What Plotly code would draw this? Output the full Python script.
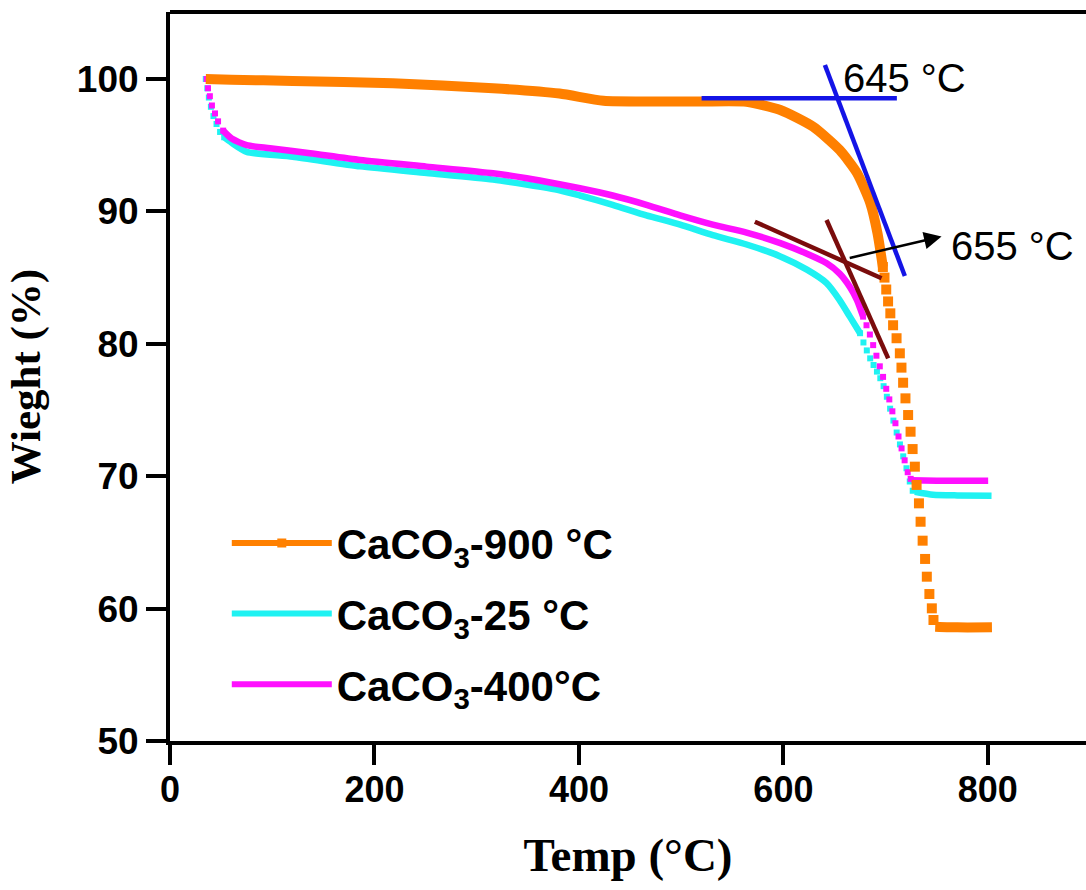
import plotly.graph_objects as go

# ---------------- TGA readings (temperature in °C, weight in %) ----------------
# CaCO3-900 °C
t900_slow = [35, 60, 120, 218, 316, 381, 424, 479, 520, 564, 597, 629, 655, 672, 685, 692, 697.3]
w900_slow = [100.0, 99.95, 99.85, 99.67, 99.3, 98.9, 98.35, 98.3, 98.3, 98.28, 97.66, 96.4, 94.64, 92.9, 90.63, 88.37, 85.8]
t900_drop = [697.3, 698.9, 700.6, 702.4, 704.6, 707.3, 710.7, 713.9, 715.5, 717.1, 719.4, 722.0, 724.4,
             726.4, 728.6, 730.3, 732.6, 734.2, 736.2, 738.6, 740.3, 742.8, 745.2, 746.8]
w900_drop = [85.8, 85.0, 84.1, 83.2, 82.3, 81.4, 80.42, 79.28, 78.20, 77.06, 75.88, 74.62, 73.36,
             72.05, 70.72, 69.34, 67.95, 66.56, 65.13, 63.75, 62.41, 61.10, 60.02, 59.14]
t900_end = [748.5, 760, 780, 804]
w900_end = [58.63, 58.6, 58.58, 58.6]

# CaCO3-25 °C
t25_start = [35, 36.5, 38, 40, 42.5, 45.5, 49, 53]
w25_start = [100.0, 99.3, 98.6, 97.9, 97.2, 96.6, 96.0, 95.6]
t25_slow = [53, 60, 75, 120, 186, 251, 316, 381, 401, 433, 466, 499, 531, 564, 597, 623, 642, 655, 665, 675]
w25_slow = [95.6, 95.2, 94.5, 94.13, 93.4, 92.9, 92.4, 91.6, 91.2, 90.5, 89.7, 89.0, 88.2, 87.5, 86.6, 85.6,
            84.6, 83.3, 82.05, 80.8]
t25_drop = [675.0, 678.3, 681.6, 684.9, 688.2, 691.5, 694.8, 698.0, 701.2, 704.4, 707.6, 710.8, 714.0,
            717.2, 720.4, 723.6, 726.5]
w25_drop = [80.8, 80.1, 79.5, 78.9, 78.4, 77.9, 77.4, 76.8, 76.0, 75.1, 74.2, 73.3, 72.4, 71.5, 70.6, 69.6, 68.9]
t25_end = [728.6, 746.5, 770, 803.6]
w25_end = [68.83, 68.6, 68.55, 68.53]

# CaCO3-400 °C
t400_start = [35.9, 37.2, 39, 41, 44, 47, 52]
w400_start = [100.0, 99.3, 98.7, 98.0, 97.4, 96.8, 96.1]
t400_slow = [52, 60.3, 75, 97.8, 137, 186, 251, 316, 349, 381, 401, 433, 466, 499, 531, 564, 597, 623,
             642, 655, 665, 672, 678]
w400_slow = [96.1, 95.5, 95.0, 94.77, 94.39, 93.88, 93.38, 92.88, 92.5, 92.05, 91.75, 91.2, 90.5, 89.7,
             89.0, 88.4, 87.6, 86.8, 86.1, 85.3, 84.3, 83.3, 82.05]
t400_drop = [678.0, 681.3, 684.6, 687.8, 691.0, 694.3, 697.5, 700.6, 703.6, 706.6, 709.6, 712.6, 715.6,
             718.6, 721.6, 724.5]
w400_drop = [82.05, 81.4, 80.7, 79.9, 79.1, 78.3, 77.5, 76.6, 75.8, 74.9, 74.0, 73.0, 72.1, 71.2, 70.3, 69.8]
t400_end = [725.4, 750, 775, 800.3]
w400_end = [69.7, 69.66, 69.65, 69.66]

# Onset construction lines: (t0, w0, t1, w1)
onset900_base = [520, 98.54, 711, 98.54]
onset900_tangent = [640.6, 101.06, 718.8, 85.12]
onset400_base = [572.1, 89.22, 696.0, 84.95]
onset400_tangent = [642.2, 89.35, 702.5, 78.9]
arrow_tail = [663.4, 86.46]
arrow_head = [754.7, 88.1]
label_645 = [718.8, 100.08]
label_655 = [824.4, 87.39]

ORANGE = "#FF8000"
CYAN = "#1FF2F2"
MAGENTA = "#FF10FF"
BLUE = "#1414E6"
MAROON = "#7A0C0C"

SANS = "Liberation Sans, Arial, sans-serif"
SERIF = "Liberation Serif, Times New Roman, serif"

fig = go.Figure()


def add_series(color, lw, ms, parts_line, parts_dots):
    for tx, wy in parts_line:
        fig.add_trace(go.Scatter(x=tx, y=wy, mode="lines", showlegend=False, hoverinfo="skip",
                                 line=dict(color=color, width=lw, shape="spline", smoothing=0.6)))
    for tx, wy in parts_dots:
        fig.add_trace(go.Scatter(x=tx, y=wy, mode="markers", showlegend=False, hoverinfo="skip",
                                 marker=dict(symbol="square", size=ms, color=color, line=dict(width=0))))


add_series(CYAN, 6.5, 6, [(t25_slow, w25_slow), (t25_end, w25_end)],
           [(t25_start, w25_start), (t25_drop, w25_drop)])
add_series(MAGENTA, 6.5, 6, [(t400_slow, w400_slow), (t400_end, w400_end)],
           [(t400_start, w400_start), (t400_drop, w400_drop)])
add_series(ORANGE, 10, 10, [(t900_slow, w900_slow), (t900_end, w900_end)],
           [(t900_drop, w900_drop)])

# legend entries
fig.add_trace(go.Scatter(x=[None], y=[None], mode="lines+markers", name="CaCO<sub>3</sub>-900 °C",
                         legendgroup="g1", line=dict(color=ORANGE, width=6),
                         marker=dict(symbol="square", size=9, color=ORANGE)))
fig.add_trace(go.Scatter(x=[None], y=[None], mode="lines", name="CaCO<sub>3</sub>-25 °C",
                         legendgroup="g2", line=dict(color=CYAN, width=6)))
fig.add_trace(go.Scatter(x=[None], y=[None], mode="lines", name="CaCO<sub>3</sub>-400°C",
                         legendgroup="g3", line=dict(color=MAGENTA, width=6)))

shapes = []
for seg, col in [(onset900_base, BLUE), (onset900_tangent, BLUE),
                 (onset400_base, MAROON), (onset400_tangent, MAROON)]:
    shapes.append(dict(type="line", xref="x", yref="y", x0=seg[0], y0=seg[1], x1=seg[2], y1=seg[3],
                       line=dict(color=col, width=4.5)))
# top frame line
shapes.append(dict(type="line", xref="paper", yref="paper", x0=0, y0=1, x1=1, y1=1,
                   line=dict(color="black", width=4)))

annotations = [
    dict(x=label_645[0], y=label_645[1], xref="x", yref="y", text="645 °C", showarrow=False,
         font=dict(family=SANS, size=40, color="black"), xanchor="center", yanchor="middle"),
    dict(x=label_655[0], y=label_655[1], xref="x", yref="y", text="655 °C", showarrow=False,
         font=dict(family=SANS, size=40, color="black"), xanchor="center", yanchor="middle"),
    dict(x=arrow_head[0], y=arrow_head[1], ax=arrow_tail[0], ay=arrow_tail[1], xref="x", yref="y",
         axref="x", ayref="y", text="", showarrow=True, arrowhead=2, arrowsize=1.4, arrowwidth=2.5,
         arrowcolor="black"),
]

fig.update_layout(
    width=1086, height=890,
    margin=dict(l=170, r=0, t=12, b=149),
    paper_bgcolor="white", plot_bgcolor="white",
    showlegend=True,
    legend=dict(x=0.062, y=0.318, xanchor="left", yanchor="top", bgcolor="rgba(0,0,0,0)",
                font=dict(family=SANS, size=42, color="black", weight="bold"),
                itemwidth=100, traceorder="grouped", tracegroupgap=13),
    shapes=shapes,
    annotations=annotations,
)

fig.update_xaxes(
    range=[0, 896], tickvals=[0, 200, 400, 600, 800], showgrid=False, zeroline=False,
    showline=True, linecolor="black", linewidth=4, ticks="outside", ticklen=20, tickwidth=3.5,
    tickcolor="black", tickfont=dict(family=SANS, size=36, color="black", weight="bold"),
    ticklabelstandoff=-6,
    title=dict(text="Temp (°C)", font=dict(family=SERIF, size=47, color="black", weight="bold"),
               standoff=30),
    automargin=False,
)
fig.update_yaxes(
    range=[50, 105.06], tickvals=[50, 60, 70, 80, 90, 100], showgrid=False, zeroline=False,
    showline=True, linecolor="black", linewidth=4, ticks="outside", ticklen=20, tickwidth=3.5,
    tickcolor="black", tickfont=dict(family=SANS, size=37, color="black", weight="bold"),
    title=dict(text="Wieght (%)", font=dict(family=SERIF, size=43, color="black", weight="bold"),
               standoff=24),
    automargin=False,
)

fig.write_html("out.html")
